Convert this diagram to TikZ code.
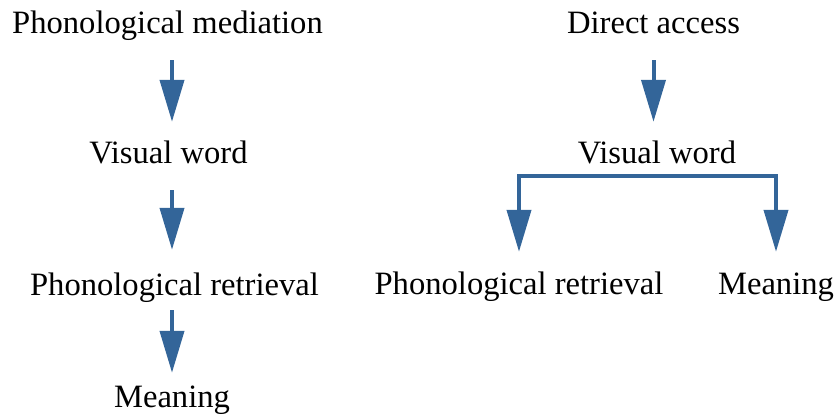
\documentclass[tikz,border=0pt]{standalone}
\usepackage{fontspec}
\setmainfont{Liberation Serif}
\usetikzlibrary{arrows.meta}
\definecolor{arrowblue}{RGB}{51,101,153}
\tikzset{
  label/.style={
    inner sep=0pt,
    text height=23pt,
    text depth=7pt,
    anchor=base,
    font=\fontsize{32.6}{36}\selectfont
    },
  arrow/.style={
    draw=arrowblue,
    line width=4pt,
    -{Triangle[length=42pt,width=24pt]}
    },
}

\begin{document}
\begin{tikzpicture}[x=1pt, y=-1pt]
  \useasboundingbox (0,0) rectangle (835,414);

  % phonological mediation
  \node[label] (pm) at (167.5,34) {Phonological mediation};
  \node[label] (vw1) at (168.5,164) {Visual word};
  \node[label] (rp1) at (174.5,295) {Phonological retrieval};
  \node[label] (mn1) at (172,407) {Meaning};

  \draw[arrow, shorten <=19pt, shorten >=19pt] (pm.south -| mn1) -- (vw1.north -| mn1);
  \draw[arrow, shorten <=19pt, shorten >=22pt] (vw1.south -| mn1) -- (rp1.north -| mn1);
  \draw[arrow, shorten <=8pt, shorten >=11pt] (rp1.south -| mn1) -- (mn1.north);

  % direct access
  \node[label] (da) at (653.5,34) {Direct access};
  \node[label] (vw2) at (657,164) {Visual word};
  \node[label] (rp2) at (519,294) {Phonological retrieval};
  \node[label] (mn2) at (776,294) {Meaning};

  \draw[arrow, shorten <=19pt, shorten >=19pt] (da.south) -- (da.south |- vw2.north);
  \coordinate (split) at ([yshift=-5pt]vw2.south);
  \draw[arrow, shorten >=19pt] (split) -| (rp2);
  \draw[arrow, shorten >=19pt] (split) -| (mn2);
\end{tikzpicture}
\end{document}
